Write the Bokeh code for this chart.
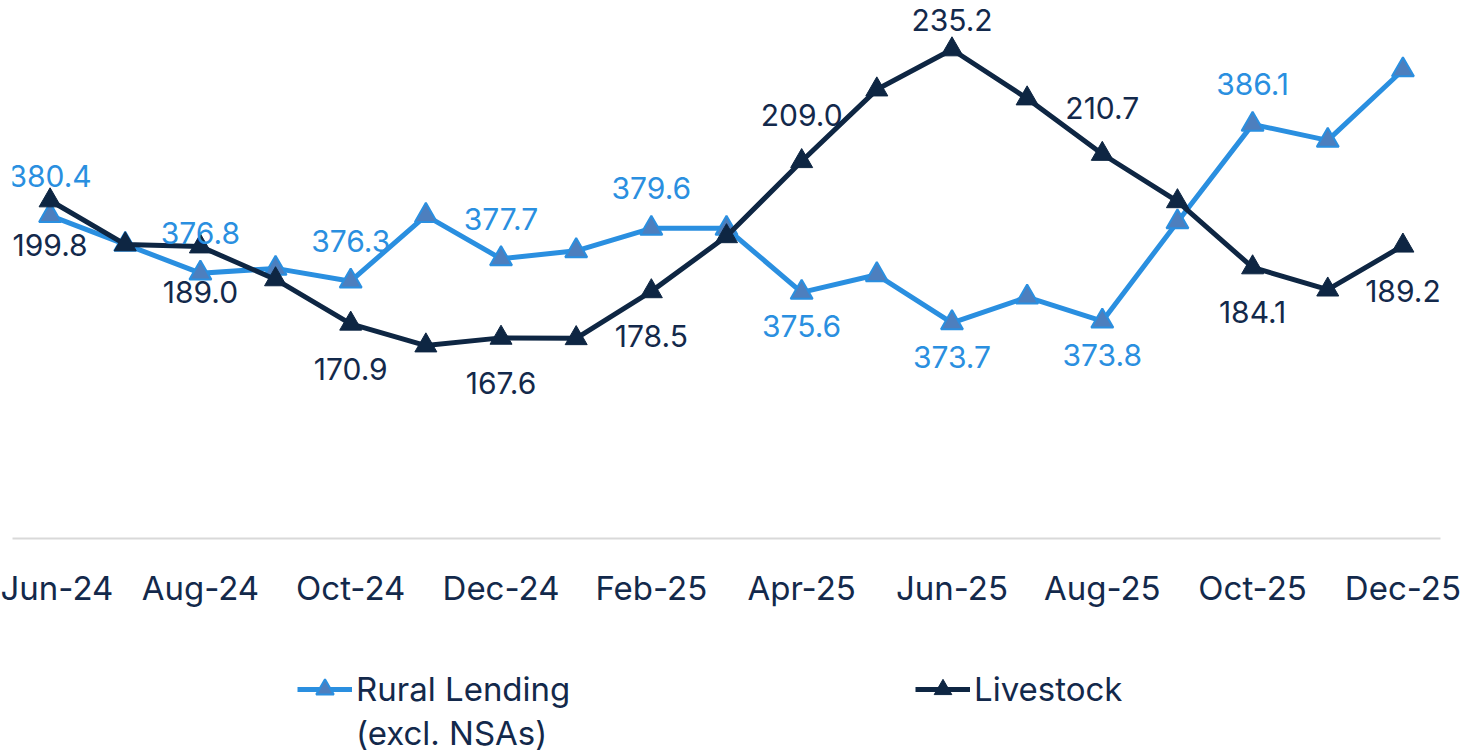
from bokeh.plotting import figure
from bokeh.layouts import column
from bokeh.models import Range1d, FixedTicker, Legend, LegendItem, ColumnDataSource
from bokeh.core.properties import value
from bokeh.embed import file_html
from bokeh.resources import INLINE

months = ["Jun-24", "Jul-24", "Aug-24", "Sep-24", "Oct-24", "Nov-24", "Dec-24",
          "Jan-25", "Feb-25", "Mar-25", "Apr-25", "May-25", "Jun-25", "Jul-25",
          "Aug-25", "Sep-25", "Oct-25", "Nov-25", "Dec-25"]
rural = [380.4, 378.6, 376.8, 377.1, 376.3, 380.4, 377.7, 378.2, 379.6, 379.6,
         375.6, 376.7, 373.7, 375.3, 373.8, 380.0, 386.1, 385.1, 389.5]
livestock = [199.8, 189.5, 189.0, 181.3, 170.9, 165.8, 167.6, 167.5, 178.5, 191.4,
             209.0, 225.8, 235.2, 223.7, 210.7, 199.6, 184.1, 178.9, 189.2]
# label placement: "a" above, "b" below, "t" above but kept inside the plot, "" none
rural_lbl = ["a", "", "a", "", "a", "", "a", "", "a", "", "b", "", "b", "", "b", "", "a", "", ""]
live_lbl = ["b", "", "b", "", "b", "", "b", "", "b", "", "a", "", "t", "", "a", "", "b", "", "b"]
series_name_rural = ["Rural Lending", "(excl. NSAs)"]
series_name_live = "Livestock"

FONT = "Inter"
C_RURAL = "#2A8FE0"
C_RURAL_FILL = "#4D7FBE"
C_LIVE = "#0E2643"
C_TEXT = "#13294B"

x = list(range(len(months)))

p = figure(width=1462, height=610, x_range=Range1d(-0.5, 18.5),
           y_range=Range1d(360.22, 393.84), output_backend="svg",
           toolbar_location=None, min_border_left=12, min_border_right=22,
           min_border_top=0, min_border_bottom=72, y_axis_location=None)
p.extra_y_ranges = {"ls": Range1d(120.57, 246.68)}
p.outline_line_color = None
p.xgrid.visible = False
p.ygrid.visible = False

xa = p.xaxis[0]
xa.ticker = FixedTicker(ticks=list(range(0, 19, 2)))
xa.major_label_overrides = {i: m for i, m in enumerate(months)}
xa.axis_line_color = "#D9D9D9"
xa.axis_line_width = 2
xa.major_tick_line_color = None
xa.minor_tick_line_color = None
xa.major_label_standoff = 23
xa.major_label_text_font = FONT
xa.major_label_text_font_size = "33px"
xa.major_label_text_color = C_TEXT

line_kw_r = dict(line_color=C_RURAL, line_width=5)
mark_kw_r = dict(marker="triangle", size=22, fill_color=C_RURAL_FILL,
                 line_color=C_RURAL, line_width=2)
line_kw_l = dict(line_color=C_LIVE, line_width=5)
mark_kw_l = dict(marker="triangle", size=22, fill_color=C_LIVE,
                 line_color=C_LIVE, line_width=1)

p.line(x, rural, **line_kw_r)
p.scatter(x, rural, **mark_kw_r)
p.line(x, livestock, y_range_name="ls", **line_kw_l)
p.scatter(x, livestock, y_range_name="ls", **mark_kw_l)

def label_source(vals, flags, offs_map):
    xs, ys, ts, offs = [], [], [], []
    for i, (v, f) in enumerate(zip(vals, flags)):
        if not f:
            continue
        xs.append(i); ys.append(v); ts.append(f"{v:.1f}")
        offs.append(offs_map[f])
    return ColumnDataSource(dict(x=xs, y=ys, text=ts, yo=offs))

rs = label_source(rural, rural_lbl, {"a": -40, "b": 34, "t": -29})
ls = label_source(livestock, live_lbl, {"a": -46, "b": 45, "t": -29})
p.text("x", "y", text="text", y_offset="yo", source=rs, text_align="center",
       text_baseline="middle", text_font=value(FONT), text_font_size="30px",
       text_color=C_RURAL)
p.text("x", "y", text="text", y_offset="yo", source=ls, text_align="center",
       text_baseline="middle", text_font=value(FONT), text_font_size="30px",
       text_color=C_TEXT, y_range_name="ls")

# legend panel
q = figure(width=1462, height=145, x_range=Range1d(0, 1), y_range=Range1d(0, 1),
           output_backend="svg", toolbar_location=None, min_border=0,
           x_axis_location=None, y_axis_location=None)
q.outline_line_color = None
q.xgrid.visible = False
q.ygrid.visible = False
# off-screen stand-ins that only carry the series styles into the legend
lr1 = q.line([-5, -4], [-5, -4], **line_kw_r)
mr1 = q.scatter([-5], [-5], **mark_kw_r)
lr2 = q.line([-5, -4], [-5, -4], **line_kw_l)
mr2 = q.scatter([-5], [-5], **mark_kw_l)
blank = q.line([-5, -4], [-5, -4], line_alpha=0)

legend = Legend(items=[
    LegendItem(label=series_name_rural[0], renderers=[lr1, mr1]),
    LegendItem(label=series_name_live, renderers=[lr2, mr2]),
    LegendItem(label=series_name_rural[1], renderers=[blank]),
], orientation="horizontal", ncols=2, location=(285, 0))
legend.label_text_font = FONT
legend.label_text_font_size = "33px"
legend.label_text_color = C_TEXT
legend.glyph_width = 55
legend.glyph_height = 44
legend.label_height = 44
legend.label_standoff = 4
legend.label_width = 559
legend.spacing = 0
legend.border_line_color = None
legend.background_fill_alpha = 0
legend.margin = 0
legend.padding = 0
q.add_layout(legend, "center")

layout = column(p, q, spacing=0)
open("out.html", "w").write(file_html(layout, INLINE))
